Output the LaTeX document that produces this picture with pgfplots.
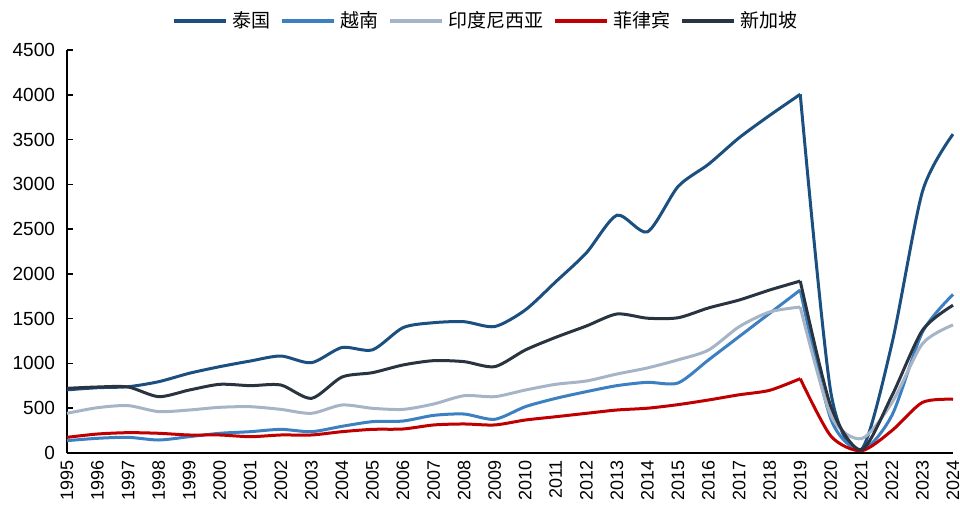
\documentclass[border=0pt]{standalone}
\usepackage{pgfplots}
\pgfplotsset{compat=1.18}
\usepackage{fontspec}
\setmainfont{Liberation Sans}
\newfontfamily\cjk{Noto Sans CJK SC}
\definecolor{cTH}{HTML}{1B4F80}
\definecolor{cVN}{HTML}{3D80C2}
\definecolor{cID}{HTML}{A6B4C8}
\definecolor{cPH}{HTML}{C00000}
\definecolor{cSG}{HTML}{2A3340}
\begin{document}
\begin{tikzpicture}
\begin{axis}[
  scale only axis,
  width=443pt, height=201.5pt,
  xmin=1995, xmax=2024, ymin=0, ymax=4500,
  axis lines=left,
  axis line style={-, line width=0.8pt},
  xtick={1995,...,2024},
  ytick={0,500,...,4500},
  x tick label style={rotate=90, anchor=east, font=\fontsize{9}{10}\selectfont},
  y tick label style={font=\fontsize{9.5}{10}\selectfont, xshift=-2.5pt},
  xticklabel style={/pgf/number format/1000 sep={}},
  yticklabel style={/pgf/number format/1000 sep={}},
  /pgf/number format/assume math mode=true,
  xtick style={draw=none},
  ytick style={line width=0.8pt, black},
  tick align=inside,
  major tick length=3pt,
  legend columns=5,
  legend style={draw=none, at={(0.474,1.0)}, anchor=south, yshift=5.5pt, font=\cjk\fontsize{9.5}{10}\selectfont, column sep=0pt, inner xsep=0pt, /tikz/every even column/.append style={column sep=3pt}},
  legend image code/.code={\draw[#1, line width=2pt] (0pt,0pt) -- (26pt,0pt);},
  every axis plot/.append style={line width=1.5pt, smooth, tension=0.45},
  clip=false,
]
% Thailand
\addplot[cTH] coordinates {
(1995,705)(1996,729)(1997,740)(1998,796)(1999,890)(2000,964)(2001,1027)(2002,1083)(2003,1008)(2004,1178)
(2005,1152)(2006,1400)(2007,1455)(2008,1466)(2009,1412)(2010,1597)(2011,1913)(2012,2235)(2013,2655)(2014,2470)
(2015,2975)(2016,3225)(2017,3520)(2018,3770)(2019,4005)};
\addlegendentry{泰国}
\addplot[cTH, forget plot] coordinates {(2019,4005)(2020,680)(2021,40)(2022,1220)(2023,2920)(2024,3560)};
% Vietnam
\addplot[cVN] coordinates {
(1995,138)(1996,164)(1997,175)(1998,145)(1999,182)(2000,220)(2001,238)(2002,264)(2003,238)(2004,298)
(2005,350)(2006,357)(2007,420)(2008,435)(2009,376)(2010,517)(2011,610)(2012,685)(2013,752)(2014,789)
(2015,782)(2016,1040)(2017,1300)(2018,1560)(2019,1820)};
\addlegendentry{越南}
\addplot[cVN, forget plot] coordinates {(2019,1820)(2020,380)(2021,30)(2022,420)(2023,1350)(2024,1770)};
% Indonesia
\addplot[cID] coordinates {
(1995,443)(1996,506)(1997,529)(1998,462)(1999,480)(2000,510)(2001,517)(2002,487)(2003,443)(2004,536)
(2005,499)(2006,487)(2007,547)(2008,640)(2009,629)(2010,703)(2011,767)(2012,804)(2013,882)(2014,950)
(2015,1040)(2016,1150)(2017,1410)(2018,1575)(2019,1630)};
\addlegendentry{印度尼西亚}
\addplot[cID, forget plot] coordinates {(2019,1630)(2020,420)(2021,160)(2022,560)(2023,1220)(2024,1430)};
% Philippines
\addplot[cPH] coordinates {
(1995,175)(1996,212)(1997,227)(1998,220)(1999,201)(2000,201)(2001,182)(2002,201)(2003,201)(2004,238)
(2005,264)(2006,268)(2007,313)(2008,324)(2009,313)(2010,368)(2011,405)(2012,443)(2013,480)(2014,500)
(2015,540)(2016,592)(2017,650)(2018,700)(2019,830)};
\addlegendentry{菲律宾}
\addplot[cPH, forget plot] coordinates {(2019,830)(2020,190)(2021,25)(2022,250)(2023,565)(2024,600)};
% Singapore
\addplot[cSG] coordinates {
(1995,722)(1996,737)(1997,737)(1998,629)(1999,703)(2000,767)(2001,752)(2002,759)(2003,610)(2004,848)
(2005,897)(2006,983)(2007,1031)(2008,1020)(2009,964)(2010,1150)(2011,1292)(2012,1418)(2013,1552)(2014,1505)
(2015,1510)(2016,1620)(2017,1708)(2018,1820)(2019,1920)};
\addlegendentry{新加坡}
\addplot[cSG, forget plot] coordinates {(2019,1920)(2020,520)(2021,35)(2022,640)(2023,1370)(2024,1650)};
\end{axis}
\pgfresetboundingbox
\path ([shift={(-33.5pt,-26pt)}]current axis.south west) rectangle ([shift={(3.5pt,25pt)}]current axis.north east);
\end{tikzpicture}
\end{document}
